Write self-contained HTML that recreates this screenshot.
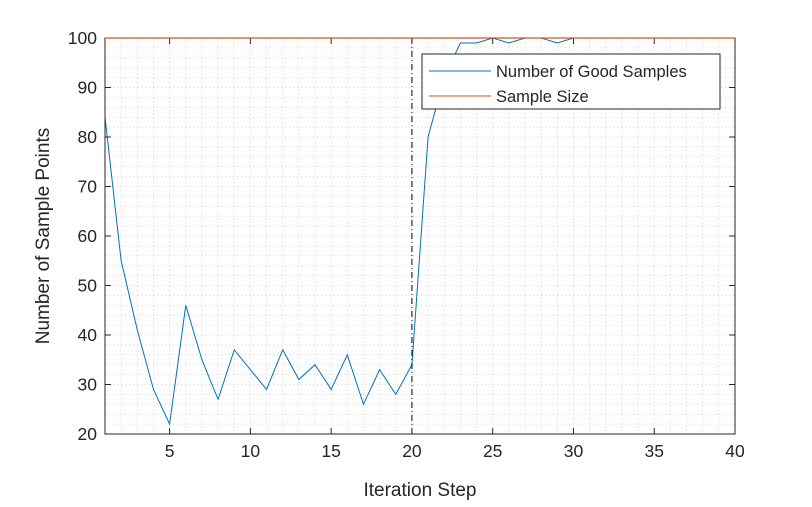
<!DOCTYPE html>
<html><head><meta charset="utf-8"><style>
html,body{margin:0;padding:0;background:#fff;}
svg text{font-family:"Liberation Sans",Arial,sans-serif;fill:#262626;}
</style></head><body>
<svg id="chart" width="812" height="502" viewBox="0 0 812 502" xmlns="http://www.w3.org/2000/svg">
<rect x="0" y="0" width="812" height="502" fill="#fff"/>
<g id="grid"></g>
<g id="marks"></g>
<g id="axes"></g>
<g id="top"></g>
<text x="420" y="496" font-size="19" text-anchor="middle">Iteration Step</text>
<text transform="translate(49,236) rotate(-90)" font-size="19" text-anchor="middle">Number of Sample Points</text>
<g>
<rect x="422" y="54" width="298" height="55" fill="#fff" stroke="#262626" stroke-width="1"/>
<line x1="429" y1="71" x2="491" y2="71" stroke="#0072bd" stroke-width="1"/>
<text x="496" y="77" font-size="16.5">Number of Good Samples</text>
<line x1="429" y1="96" x2="491" y2="96" stroke="#d95319" stroke-width="1"/>
<text x="496" y="102" font-size="16.5">Sample Size</text>
</g>
</svg>
<script>
const steps = [1,2,3,4,5,6,7,8,9,10,11,12,13,14,15,16,17,18,19,20,21,22,23,24,25,26,27,28,29,30];
const goodSamples = [84,55,41,29,22,46,35,27,37,33,29,37,31,34,29,36,26,33,28,34,80,92,99,99,100,99,100,100,99,100];
const sampleSize = [100,100];
const sampleSizeSteps = [1,40];
const xTicks = [5,10,15,20,25,30,35,40];
const yTicks = [20,30,40,50,60,70,80,90,100];
const markerStep = 20;

const L=105,R=735,T=38,B=434;
const xMin=1,xMax=40,yMin=20,yMax=100;
const sx=v=>L+(v-xMin)/(xMax-xMin)*(R-L);
const sy=v=>B-(v-yMin)/(yMax-yMin)*(B-T);
const NS="http://www.w3.org/2000/svg";
function mk(tag,attrs,parent){const e=document.createElementNS(NS,tag);for(const k in attrs)e.setAttribute(k,attrs[k]);parent.appendChild(e);return e;}
const grid=document.getElementById('grid'),marks=document.getElementById('marks'),axes=document.getElementById('axes'),top_=document.getElementById('top');
for(let x=xMin+1;x<xMax;x++){const l=mk('line',{x1:sx(x),x2:sx(x),y1:T,y2:B,stroke:'#d4d4d4','stroke-width':1,'stroke-dasharray':'1,3'},grid);

}
for(let y=yMin+2;y<yMax;y+=2){const l=mk('line',{x1:L,x2:R,y1:sy(y),y2:sy(y),stroke:'#d4d4d4','stroke-width':1,'stroke-dasharray':'1,3'},grid);

}
const p=mk('polyline',{points:steps.map((s,i)=>sx(s)+','+sy(goodSamples[i])).join(' '),fill:'none',stroke:'#0072bd','stroke-width':1},marks);


const v=mk('line',{x1:sx(markerStep),x2:sx(markerStep),y1:T,y2:B,stroke:'#000','stroke-width':1,'stroke-dasharray':'6,3,1,3'},marks);


const frame=mk('rect',{x:L,y:T,width:R-L,height:B-T,fill:'none',stroke:'#262626','stroke-width':1},axes);


const p2=mk('polyline',{points:sampleSizeSteps.map((s,i)=>sx(s)+','+sy(sampleSize[i])).join(' '),fill:'none',stroke:'#d95319','stroke-width':1.3},top_);


xTicks.forEach(t=>{
mk('line',{x1:sx(t),x2:sx(t),y1:B,y2:B-6,stroke:'#262626'},axes);
mk('line',{x1:sx(t),x2:sx(t),y1:T,y2:T+6,stroke:'#262626'},axes);
const tx=mk('text',{x:sx(t),y:B+23,'font-size':17.5,'text-anchor':'middle'},axes);tx.textContent=t;

});
yTicks.forEach(t=>{
mk('line',{x1:L,x2:L+6,y1:sy(t),y2:sy(t),stroke:'#262626'},axes);
mk('line',{x1:R,x2:R-6,y1:sy(t),y2:sy(t),stroke:'#262626'},axes);
const tx=mk('text',{x:L-8,y:sy(t)+6,'font-size':17.5,'text-anchor':'end'},axes);tx.textContent=t;

});
</script>
</body></html>
